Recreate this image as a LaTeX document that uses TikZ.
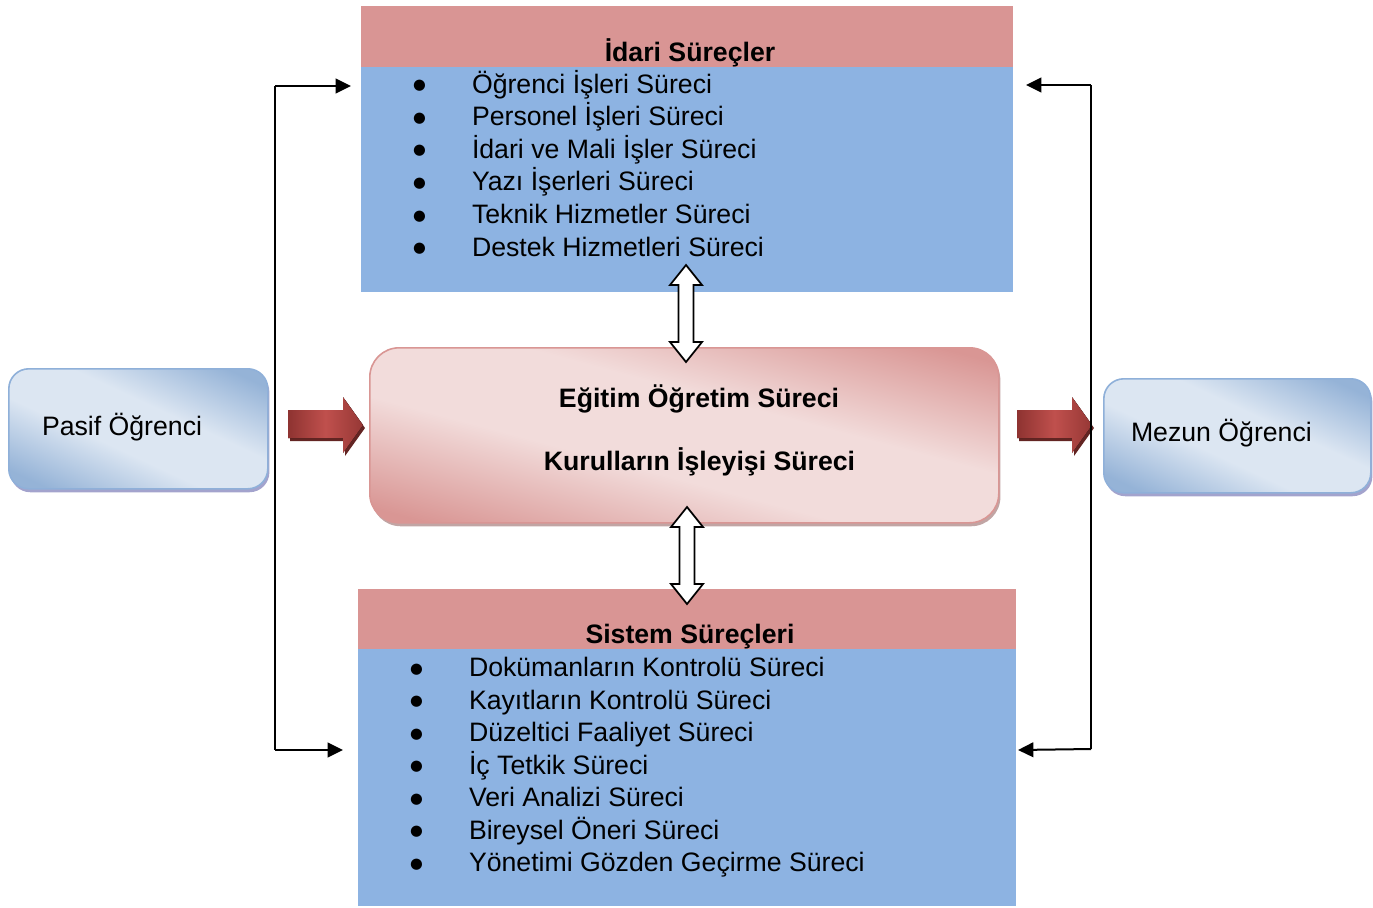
\documentclass[tikz,border=0pt]{standalone}
\usepackage{fontspec}
\setmainfont{Liberation Sans}
\newfontfamily\symfont{DejaVu Sans}
\usetikzlibrary{arrows.meta,shadows}
\definecolor{hdr}{HTML}{D99594}
\definecolor{bodyblue}{HTML}{8DB3E2}
\definecolor{bdark}{HTML}{95B3D7}
\definecolor{blight}{HTML}{DCE6F2}
\definecolor{bedge}{HTML}{8FB0D9}
\definecolor{pdark}{HTML}{D99694}
\definecolor{plight}{HTML}{F2DCDB}
\definecolor{pedge}{HTML}{D99694}
\definecolor{rdark}{HTML}{8E3331}
\definecolor{rmid}{HTML}{C0504D}
\definecolor{rshadow}{HTML}{632523}
\pgfdeclareverticalshading{pinkdiag}{100bp}{color(0bp)=(pdark); color(22bp)=(pdark); color(42bp)=(plight); color(58bp)=(plight); color(78bp)=(pdark); color(100bp)=(pdark)}
\pgfdeclareverticalshading{bluediag}{100bp}{color(0bp)=(bdark); color(22bp)=(bdark); color(42bp)=(blight); color(58bp)=(blight); color(78bp)=(bdark); color(100bp)=(bdark)}
\newcommand{\mybul}{\makebox[44.25pt][l]{\symfont\fontsize{11}{13}\selectfont\raisebox{2.5pt}{●}}}
\begin{document}
\begin{tikzpicture}[x=0.75pt,y=-0.75pt,
  txt/.style={font=\fontsize{20}{24}\selectfont, inner sep=0pt, outer sep=0pt},
  btxt/.style={txt, font=\fontsize{20}{24}\selectfont\bfseries},
  item/.style={txt, anchor=base west},
  panel/.style={rectangle, fill=bodyblue, inner sep=0pt, outer sep=0pt, anchor=north west},
  header/.style={rectangle, fill=hdr, inner sep=0pt, outer sep=0pt, anchor=north west},
  bluebox/.style={rectangle, rounded corners=15pt, draw=bedge, line width=1.2pt,
     shade, shading=bluediag, shading angle=-25,
     inner sep=0pt, anchor=north west,
     drop shadow={shadow xshift=1.2pt, shadow yshift=-2.6pt, fill=black!55!blue!60!white, opacity=0.6}},
  pinkbox/.style={rectangle, rounded corners=22pt, draw=pedge, line width=1.2pt,
     shade, shading=pinkdiag, shading angle=-15,
     inner sep=0pt, anchor=north west,
     drop shadow={shadow xshift=1.2pt, shadow yshift=-2.6pt, fill=pdark!70!black, opacity=0.6}},
  conn/.style={line width=1.5pt, -{Triangle[length=11.5pt,width=11pt]}},
  warrow/.style={draw=black, fill=white, line width=1.3pt, line join=miter},
  redarrow/.style={left color=rdark, right color=rdark!85!rmid, middle color=rmid},
  redshadow/.style={fill=rshadow}
]
\useasboundingbox (0,0) rectangle (1373,907);

% ---------- top panel: Idari Surecler ----------
\node[panel, minimum width=489pt, minimum height=214.5pt] (idari) at (361,6) {};
\node[header, minimum width=489pt, minimum height=45.75pt] (idarih) at (361,6) {};
\node[btxt, anchor=base] (idarit) at (690,61) {İdari Süreçler};
\foreach \t [count=\i] in {Öğrenci İşleri Süreci, Personel İşleri Süreci, İdari ve Mali İşler Süreci, Yazı İşerleri Süreci, Teknik Hizmetler Süreci, Destek Hizmetleri Süreci}{
  \node[item] (it\i) at (413,{93+32.6*(\i-1)}) {\mybul\t};
}

% ---------- bottom panel: Sistem Surecleri ----------
\node[panel, minimum width=493.5pt, minimum height=237.75pt] (sistem) at (358,589) {};
\node[header, minimum width=493.5pt, minimum height=45pt] (sistemh) at (358,589) {};
\node[btxt, anchor=base] (sistemt) at (690,643) {Sistem Süreçleri};
\foreach \t [count=\i] in {Dokümanların Kontrolü Süreci, Kayıtların Kontrolü Süreci, Düzeltici Faaliyet Süreci, İç Tetkik Süreci, Veri Analizi Süreci, Bireysel Öneri Süreci, Yönetimi Gözden Geçirme Süreci}{
  \node[item] (st\i) at (410,{676.5+32.5*(\i-1)}) {\mybul\t};
}

% ---------- middle box ----------
\node[pinkbox, minimum width=471.75pt, minimum height=131.25pt] (egitim) at (369,347) {};
\node[btxt, anchor=base] (eg1) at (699,407) {Eğitim Öğretim Süreci};
\node[btxt, anchor=base] (eg2) at (699.5,470) {Kurulların İşleyişi Süreci};

% ---------- side boxes ----------
\node[bluebox, minimum width=194.25pt, minimum height=90pt] (pasif) at (8,368) {};
\node[txt, anchor=base west] (pasift) at (42,435) {Pasif Öğrenci};
\node[bluebox, minimum width=200.25pt, minimum height=85.5pt] (mezun) at (1103,378) {};
\node[txt, anchor=base west] (mezunt) at (1131,441.5) {Mezun Öğrenci};

% ---------- red block arrows ----------
\coordinate (ra1) at (288,410);
\coordinate (ra2) at (1017,410);
\foreach \c in {ra1,ra2}{
  \fill[redshadow] ([shift={(2,3)}]\c) -- ++(55,0) -- ++(0,-13) -- ++(20,28) -- ++(-20,28) -- ++(0,-15) -- ++(-55,0) -- cycle;
  \fill[redarrow] (\c) -- ++(55,0) -- ++(0,-13) -- ++(20,28) -- ++(-20,28) -- ++(0,-15) -- ++(-55,0) -- cycle;
}

% ---------- white double arrows ----------
\coordinate (wa1) at (686,265);
\coordinate (wa2) at (687,507);
\foreach \c in {wa1,wa2}{
  \draw[warrow] (\c) -- ++(16,20) -- ++(-8.5,0) -- ++(0,57) -- ++(8.5,0) -- ++(-16,20) -- ++(-16,-20) -- ++(8.5,0) -- ++(0,-57) -- ++(-8.5,0) -- cycle;
}

% ---------- black connectors ----------
\coordinate (lT) at (275,86);
\coordinate (lB) at (275,750);
\coordinate (rT) at (1091,85);
\coordinate (rB) at (1091,749);
\coordinate (tipLT) at (351,86);
\coordinate (tipLB) at (343,750);
\coordinate (tipRT) at (1026,85);
\coordinate (tipRB) at (1018,750);
\draw[line width=1.5pt] (lT) -- (lB);
\draw[line width=1.5pt] (rT) -- (rB);
\draw[conn] (lT) -- (tipLT);
\draw[conn] (lB) -- (tipLB);
\draw[conn] (rT) -- (tipRT);
\draw[conn] (rB) -- (tipRB);
\end{tikzpicture}
\end{document}
